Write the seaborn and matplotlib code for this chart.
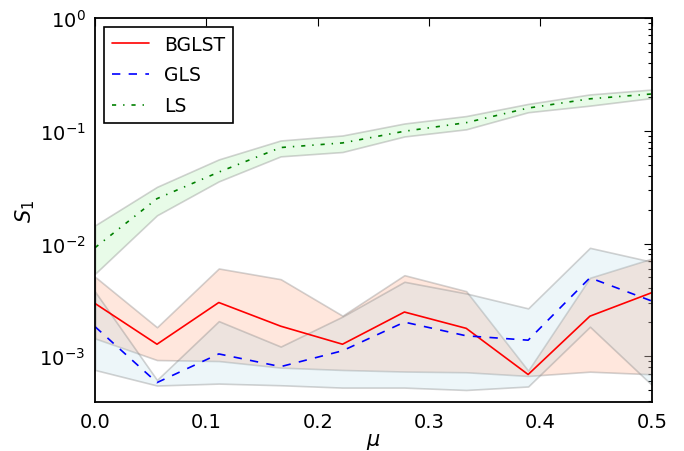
import numpy as np
import pandas as pd
import matplotlib
matplotlib.use('Agg')
import matplotlib.pyplot as plt
import matplotlib.colors as mcolors
import seaborn as sns

# 데이터
mu = [0.0, 0.0556, 0.1111, 0.1667, 0.2222, 0.2778, 0.3333, 0.3889, 0.4444, 0.5]

bglst = [0.00294, 0.00128, 0.0030, 0.00185, 0.00128, 0.00247, 0.00177, 0.00069, 0.00227, 0.00367]
bglst_lo = [0.00144, 0.000927, 0.000908, 0.000794, 0.000757, 0.000733, 0.000722, 0.00067, 0.000731, 0.000693]
bglst_hi = [0.00507, 0.00181, 0.00601, 0.00483, 0.00229, 0.00524, 0.00378, 0.000747, 0.00497, 0.00736]

gls = [0.00183, 0.000585, 0.00105, 0.00081, 0.00112, 0.00201, 0.00152, 0.00139, 0.00497, 0.00309]
gls_lo = [0.000757, 0.000551, 0.000573, 0.000554, 0.000528, 0.000528, 0.000503, 0.00054, 0.00183, 0.000557]
gls_hi = [0.00374, 0.000617, 0.00205, 0.00122, 0.00225, 0.00458, 0.00361, 0.00266, 0.00916, 0.00689]

ls = [0.0092, 0.025, 0.043, 0.071, 0.078, 0.099, 0.118, 0.159, 0.192, 0.212]
ls_lo = [0.0054, 0.0178, 0.0356, 0.0593, 0.0648, 0.089, 0.103, 0.146, 0.167, 0.195]
ls_hi = [0.0145, 0.0318, 0.0557, 0.082, 0.0908, 0.116, 0.135, 0.173, 0.210, 0.232]

# 스타일 (예전 matplotlib 느낌)
sns.set_style('white')
plt.rcParams['font.family'] = ['DejaVu Sans']
plt.rcParams['font.size'] = 13.5
plt.rcParams['text.color'] = 'black'
plt.rcParams['axes.labelcolor'] = 'black'
plt.rcParams['xtick.color'] = 'black'
plt.rcParams['ytick.color'] = 'black'
plt.rcParams['xtick.direction'] = 'in'
plt.rcParams['ytick.direction'] = 'in'
plt.rcParams['xtick.top'] = True
plt.rcParams['ytick.right'] = True
plt.rcParams['xtick.major.size'] = 5.5
plt.rcParams['ytick.major.size'] = 5.5
plt.rcParams['xtick.minor.size'] = 2.8
plt.rcParams['ytick.minor.size'] = 2.8
plt.rcParams['xtick.major.width'] = 0.8
plt.rcParams['ytick.major.width'] = 0.8
plt.rcParams['ytick.minor.width'] = 0.8
plt.rcParams['xtick.major.pad'] = 7
plt.rcParams['ytick.major.pad'] = 7
plt.rcParams['xtick.labelsize'] = 14
plt.rcParams['ytick.labelsize'] = 14
plt.rcParams['axes.edgecolor'] = 'black'
plt.rcParams['axes.linewidth'] = 1.3
plt.rcParams['lines.scale_dashes'] = False

fig, ax = plt.subplots(figsize=(6.84, 4.52), dpi=100)
fig.subplots_adjust(left=0.139, right=0.953, top=0.958, bottom=0.108)

edge = (0.5, 0.5, 0.5, 0.35)
ax.fill_between(mu, ls_lo, ls_hi, facecolor=mcolors.to_rgba('lightgreen', 0.2), edgecolor=edge, lw=1.2)
ax.fill_between(mu, bglst_lo, bglst_hi, facecolor=mcolors.to_rgba('lightsalmon', 0.25), edgecolor=edge, lw=1.2)
ax.fill_between(mu, gls_lo, gls_hi, facecolor=mcolors.to_rgba('lightblue', 0.22), edgecolor=edge, lw=1.2)

sns.lineplot(x=mu, y=bglst, color='red', lw=1.2, label='BGLST', ax=ax, estimator=None)
sns.lineplot(x=mu, y=gls, color='blue', lw=1.2, linestyle=(0, (6, 6)), label='GLS', ax=ax, estimator=None)
sns.lineplot(x=mu, y=ls, color='green', lw=1.2, linestyle=(0, (3, 5, 1, 5)), label='LS', ax=ax, estimator=None)

ax.set_yscale('log')
ax.set_xlim(0, 0.5)
ax.set_ylim(3.92e-4, 1)
ax.set_xticks([0.0, 0.1, 0.2, 0.3, 0.4, 0.5])
ax.set_xticklabels(['0.0', '0.1', '0.2', '0.3', '0.4', '0.5'])
ax.tick_params(which='both', color='black')

ax.set_xlabel(r'$\mu$', fontsize=15, labelpad=0)
ax.set_ylabel(r'$S_1$', fontsize=15, labelpad=2)

leg = ax.legend(loc='upper left', fontsize=13.5, fancybox=False, framealpha=1,
                edgecolor='black', handlelength=2.0, handletextpad=0.8,
                labelspacing=0.62, borderpad=0.4, borderaxespad=0.5)
leg.get_frame().set_linewidth(1.2)

plt.savefig('out.png', dpi=100)
